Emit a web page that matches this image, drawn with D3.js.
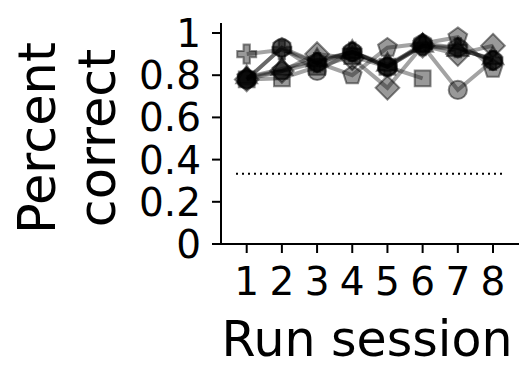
<!DOCTYPE html>
<html>
<head>
<meta charset="utf-8">
<script src="https://cdn.jsdelivr.net/npm/d3@7"></script>
<style>
  body { margin: 0; background: #fff; }
  svg { display: block; font-family: "DejaVu Sans", sans-serif; }
</style>
</head>
<body>
<svg id="chart" width="527" height="368"></svg>
<script>
// sessions and per-subject percent correct
const sessions = [1, 2, 3, 4, 5, 6, 7, 8];
const yTicks = [0, 0.2, 0.4, 0.6, 0.8, 1];
const chance = 0.333;

const plusSeries = [0.90, 0.92, 0.86, 0.91, 0.84, 0.94, 0.93, 0.87];
const circleSeries = [0.78, 0.93, 0.82, 0.91, 0.84, 0.94, 0.73, 0.87];
const diamondSeries = [0.78, 0.82, 0.90, 0.88, 0.74, 0.94, 0.90, 0.94];
const squareSeries = [0.78, 0.785, 0.84, 0.89, 0.84, 0.785];
const pentagonSeries = [0.79, 0.82, 0.86, 0.80, 0.93, 0.95, 0.98, 0.83];
const hexagonSeries = [0.78, 0.93, 0.86, 0.91, 0.84, 0.95, 0.93, 0.87];
const triangleSeries = [0.79, 0.83, 0.87, 0.91, 0.85, 0.94, 0.92, 0.88];

const subjects = [
  { marker: "plus", values: plusSeries },
  { marker: "circle", values: circleSeries },
  { marker: "diamond", values: diamondSeries },
  { marker: "square", values: squareSeries },
  { marker: "pentagon", values: pentagonSeries },
  { marker: "hexagon", values: hexagonSeries },
  { marker: "triangle", values: triangleSeries },
];

const svg = d3.select("#chart");

const x = d3.scaleLinear().domain([1, 8]).range([246.7, 493]);
const y = d3.scaleLinear().domain([0, 1]).range([244, 33]);

// regular polygon as a custom d3 symbol type
function polygon(n, rot) {
  return {
    draw(context, size) {
      const r = Math.sqrt(size / (0.5 * n * Math.sin((2 * Math.PI) / n)));
      for (let i = 0; i < n; i++) {
        const a = rot + (i * 2 * Math.PI) / n;
        const px = r * Math.sin(a), py = -r * Math.cos(a);
        if (i === 0) context.moveTo(px, py);
        else context.lineTo(px, py);
      }
      context.closePath();
    },
  };
}

const symbolTypes = {
  plus: d3.symbolCross,
  circle: d3.symbolCircle,
  diamond: polygon(4, 0),
  square: d3.symbolSquare,
  pentagon: polygon(5, 0),
  hexagon: polygon(6, 0),
  triangle: d3.symbolTriangle,
};
const symbolSizes = {
  plus: 200, circle: 260, diamond: 280, square: 250,
  pentagon: 230, hexagon: 250, triangle: 190,
};

// axes
const axisG = svg.append("g").attr("stroke", "#000").attr("stroke-width", 2);
axisG.append("line").attr("x1", 221).attr("x2", 221).attr("y1", 23).attr("y2", 244);
axisG.append("line").attr("x1", 213).attr("x2", 519).attr("y1", 244).attr("y2", 244);

axisG.selectAll(".ytick").data(yTicks).join("line")
  .attr("x1", 212).attr("x2", 221)
  .attr("y1", (d) => y(d)).attr("y2", (d) => y(d));
axisG.selectAll(".xtick").data(sessions).join("line")
  .attr("x1", (d) => x(d)).attr("x2", (d) => x(d))
  .attr("y1", 244).attr("y2", 253);

svg.append("g").selectAll("text").data(yTicks).join("text")
  .attr("x", 201)
  .attr("y", (d) => y(d) + 14)
  .attr("text-anchor", "end")
  .attr("font-size", 39)
  .text((d) => (d === 0 || d === 1 ? d : d3.format(".1f")(d)));

svg.append("g").selectAll("text").data(sessions).join("text")
  .attr("x", (d) => x(d))
  .attr("y", 295)
  .attr("text-anchor", "middle")
  .attr("font-size", 39)
  .text((d) => d);

svg.append("text")
  .attr("x", 367).attr("y", 356)
  .attr("text-anchor", "middle")
  .attr("font-size", 49)
  .text("Run session");

svg.append("text")
  .attr("transform", "translate(55, 138) rotate(-90)")
  .attr("text-anchor", "middle")
  .attr("font-size", 51)
  .text("Percent");
svg.append("text")
  .attr("transform", "translate(115, 138) rotate(-90)")
  .attr("text-anchor", "middle")
  .attr("font-size", 51)
  .text("correct");

// chance level
svg.append("line")
  .attr("x1", 236).attr("x2", 506)
  .attr("y1", y(chance)).attr("y2", y(chance))
  .attr("stroke", "#000").attr("stroke-width", 2)
  .attr("stroke-dasharray", "2,4");

// subject lines and markers
const line = d3.line().x((d, i) => x(sessions[i])).y((d) => y(d));

const groups = svg.append("g").selectAll("g").data(subjects).join("g");

groups.append("path")
  .attr("d", (d) => line(d.values))
  .attr("fill", "none")
  .attr("stroke", "rgba(0,0,0,0.36)")
  .attr("stroke-width", 4);

groups.each(function (s) {
  const sym = d3.symbol().type(symbolTypes[s.marker]).size(symbolSizes[s.marker]);
  d3.select(this).selectAll(".mk").data(s.values).join("path")
    .attr("transform", (d, i) => `translate(${x(sessions[i])}, ${y(d)})`)
    .attr("d", sym())
    .attr("fill", "rgba(0,0,0,0.4)")
    .attr("stroke", "rgba(0,0,0,0.45)")
    .attr("stroke-width", 2);
});
</script>
</body>
</html>
